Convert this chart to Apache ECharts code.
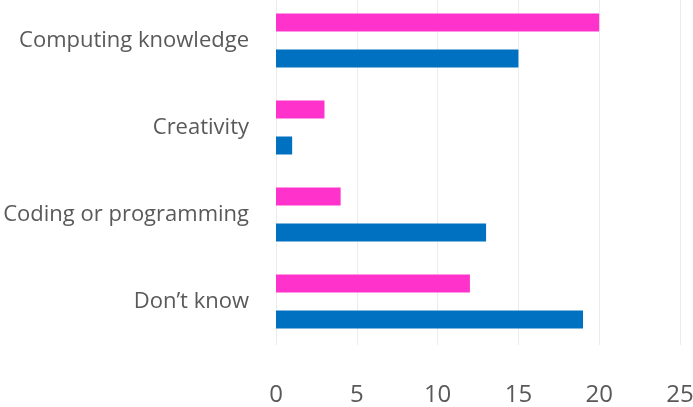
<!DOCTYPE html>
<html>
<head>
<meta charset="utf-8">
<style>
  html, body { margin: 0; padding: 0; background: #fff; }
  #chart { width: 693px; height: 407px; }
</style>
<script src="https://cdn.jsdelivr.net/npm/echarts@6/dist/echarts.min.js"></script>
</head>
<body>
<div id="chart"></div>
<script>
const categories = ['Computing knowledge', 'Creativity', 'Coding or programming', 'Don\u2019t know'];
const pinkValues = [20, 3, 4, 12];
const blueValues = [15, 1, 13, 19];
const xTicks = { min: 0, max: 25, interval: 5 };

const chart = echarts.init(document.getElementById('chart'));
const textFont = 'Open Sans';
chart.setOption({
  animation: false,
  grid: { left: 276, right: 13, top: -3, bottom: 62, containLabel: false, outerBoundsMode: 'none' },
  xAxis: {
    type: 'value',
    min: xTicks.min, max: xTicks.max, interval: xTicks.interval,
    axisLine: { show: false },
    axisTick: { show: false },
    splitLine: { lineStyle: { color: '#ececec', width: 1 } },
    axisLabel: { color: '#595959', fontSize: 24, fontFamily: textFont, margin: 38 }
  },
  yAxis: {
    type: 'category',
    data: categories,
    inverse: true,
    axisLine: { show: false },
    axisTick: { show: false },
    axisLabel: { color: '#595959', fontSize: 22, fontFamily: textFont, margin: 27 }
  },
  series: [
    { type: 'bar', data: pinkValues, barWidth: 18, barGap: '100%', itemStyle: { color: '#FF33CC' } },
    { type: 'bar', data: blueValues, barWidth: 18, barGap: '100%', itemStyle: { color: '#0070C0' } }
  ]
});
</script>
</body>
</html>
